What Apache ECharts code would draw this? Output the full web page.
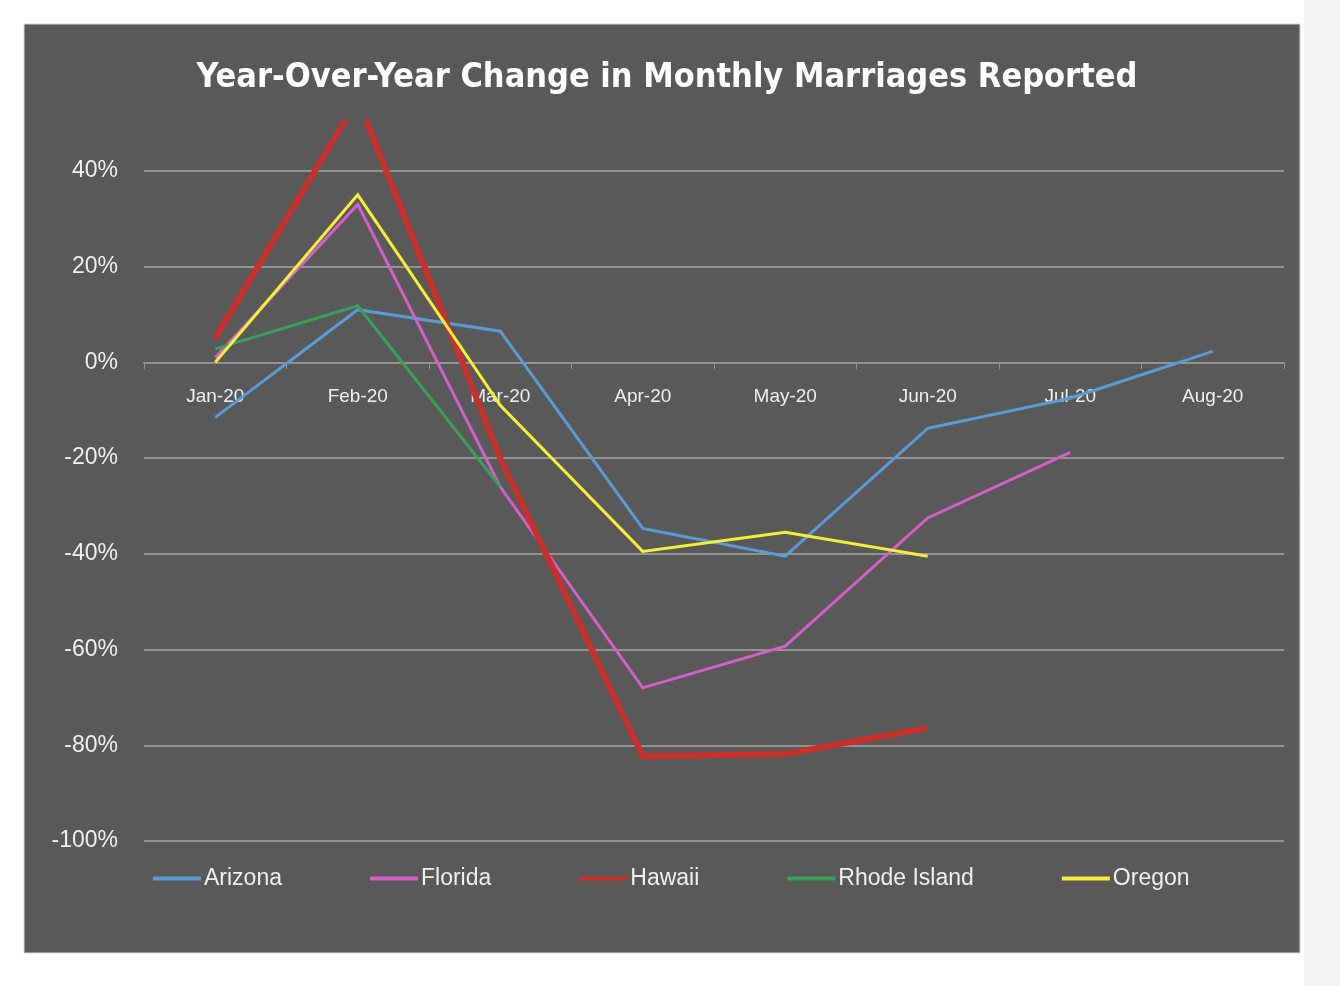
<!DOCTYPE html>
<html>
<head>
<meta charset="utf-8">
<script src="https://cdn.jsdelivr.net/npm/echarts@6/dist/echarts.min.js"></script>
<style>
html,body{margin:0;padding:0;background:#ffffff;}
#chart{width:1340px;height:986px;}
</style>
</head>
<body>
<div id="chart"></div>
<script>
const categories = ['Jan-20','Feb-20','Mar-20','Apr-20','May-20','Jun-20','Jul-20','Aug-20'];
const arizona = [-11.5, 11, 6.5, -34.7, -40.5, -13.8, -7.5, 2.3];
const florida = [1, 33, -26, -68, -59.3, -32.5, -18.8];
const hawaii = [5, 55, -20, -82.3, -81.8, -76.4];
const rhodeIsland = [2.8, 11.8, -26];
const oregon = [0, 35, -9, -39.5, -35.5, -40.5];
const yLabelValues = [-100, -80, -60, -40, -20, 0, 20, 40];

const chart = echarts.init(document.getElementById('chart'), null, {renderer: 'canvas'});
const gridColor = '#929292';
const txt = '#efefef';
const font = "'Liberation Sans', Arial, sans-serif";

function mk(name, data, color, width) {
  return {
    name: name, type: 'line', data: data, symbol: 'none', showSymbol: false,
    lineStyle: {color: color, width: width, join: 'miter'},
    itemStyle: {color: color},
    clip: true, animation: false
  };
}

chart.setOption({
  backgroundColor: '#ffffff',
  animation: false,
  graphic: [
    {type: 'rect', z: -10, silent: true, shape: {x: 1304, y: 0, width: 36, height: 986}, style: {fill: '#f4f4f4'}},
    {type: 'rect', z: -5, silent: true, shape: {x: 24, y: 24, width: 1276, height: 929}, style: {fill: '#595959', stroke: '#d8d8d8', lineWidth: 1}}
  ],
  title: {
    text: 'Year-Over-Year Change in Monthly Marriages Reported',
    left: 662, textAlign: 'center', top: 56,
    textStyle: {color: '#ffffff', fontSize: 34, fontWeight: 'bold', fontFamily: "'Liberation Sans Narrow', 'DejaVu Sans Condensed', Arial, sans-serif"}
  },
  legend: {
    data: ['Arizona','Florida','Hawaii','Rhode Island','Oregon'],
    left: 148, top: 862,
    itemGap: 88, itemWidth: 48, itemHeight: 4, icon: 'rect',
    textStyle: {color: txt, fontSize: 23, fontFamily: font, padding: [0,0,0,-2]}
  },
  grid: {left: 144, right: 56, top: 123, bottom: 145, containLabel: false},
  xAxis: {
    type: 'category', data: categories, boundaryGap: true,
    offset: -478,
    axisLine: {show: true, onZero: false, lineStyle: {color: gridColor, width: 2}},
    axisTick: {show: true, length: 6, lineStyle: {color: gridColor, width: 1}},
    axisLabel: {color: txt, fontSize: 19, fontFamily: font, margin: 24}
  },
  yAxis: {
    type: 'value', min: -100, max: 50, interval: 10,
    axisLine: {show: false}, axisTick: {show: false},
    axisLabel: {
      color: txt, fontSize: 23, fontFamily: font, margin: 26,
      formatter: function (v) { return yLabelValues.indexOf(v) >= 0 ? v + '%' : ''; }
    },
    splitLine: {show: true, lineStyle: {color: [gridColor, 'rgba(0,0,0,0)'], width: 2}}
  },
  series: [
    mk('Arizona', arizona, '#5b9bd5', 3),
    mk('Florida', florida, '#d35fc8', 3),
    mk('Hawaii', hawaii, '#c8302b', 6),
    mk('Rhode Island', rhodeIsland, '#3a9e5c', 3),
    mk('Oregon', oregon, '#f3ee38', 3)
  ]
});
</script>
</body>
</html>
